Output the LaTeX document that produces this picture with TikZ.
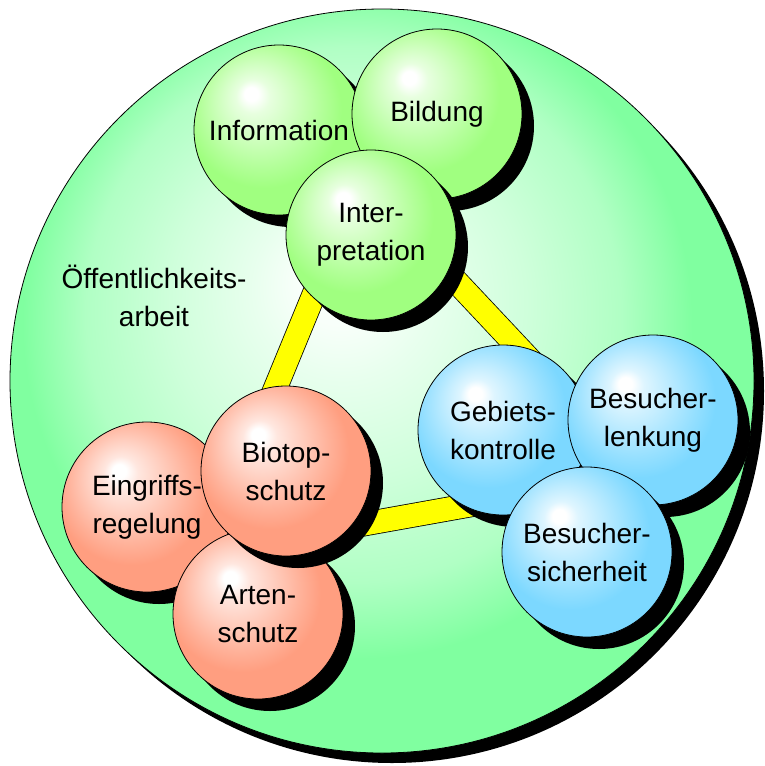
\documentclass[tikz,border=0pt]{standalone}
\usepackage{fontspec}
\newfontfamily\labelfont{Liberation Sans}
\usetikzlibrary{shadows}
\definecolor{worldgreen}{RGB}{128,255,160}
\definecolor{sphgreen}{RGB}{160,255,128}
\definecolor{sphred}{RGB}{255,158,128}
\definecolor{sphblue}{RGB}{124,216,255}
\definecolor{baryellow}{RGB}{255,255,0}
% the path's bounding box maps onto the central 50bp square, so the rim is at 25bp
\pgfdeclareradialshading{worldshade}{\pgfpoint{-3bp}{7bp}}{color(0bp)=(white); color(3bp)=(worldgreen!6!white); color(6bp)=(worldgreen!18!white); color(12bp)=(worldgreen!38!white); color(18bp)=(worldgreen!62!white); color(22.5bp)=(worldgreen); color(50bp)=(worldgreen)}
\pgfdeclareradialshading{greenball}{\pgfpoint{-8.5bp}{11bp}}{color(0bp)=(white); color(2bp)=(white); color(5bp)=(sphgreen!25!white); color(11bp)=(sphgreen!50!white); color(18bp)=(sphgreen!80!white); color(23bp)=(sphgreen); color(50bp)=(sphgreen)}
\pgfdeclareradialshading{redball}{\pgfpoint{-8.5bp}{11bp}}{color(0bp)=(white); color(2bp)=(white); color(5bp)=(sphred!25!white); color(11bp)=(sphred!50!white); color(18bp)=(sphred!80!white); color(23bp)=(sphred); color(50bp)=(sphred)}
\pgfdeclareradialshading{blueball}{\pgfpoint{-8.5bp}{11bp}}{color(0bp)=(white); color(2bp)=(white); color(5bp)=(sphblue!25!white); color(11bp)=(sphblue!50!white); color(18bp)=(sphblue!80!white); color(23bp)=(sphblue); color(50bp)=(sphblue)}
\tikzset{
  labeltext/.style={font=\labelfont\fontsize{28}{38}\selectfont, align=center, inner sep=0pt},
  world/.style={circle, draw=black, line width=0.8pt, minimum size=744pt, inner sep=0pt,
    shade, shading=worldshade,
    drop shadow={fill=black, opacity=1, shadow xshift=10pt, shadow yshift=-10pt}},
  sphere/.style={circle, draw=black, line width=0.8pt, minimum size=170pt, inner sep=0pt,
    labeltext, shade,
    drop shadow={fill=black, opacity=1, shadow xshift=12pt, shadow yshift=-12pt}},
  greensphere/.style={sphere, shading=greenball},
  redsphere/.style={sphere, shading=redball},
  bluesphere/.style={sphere, shading=blueball},
  bar/.style={draw=black, line width=0.8pt, double=baryellow, double distance=23pt, line join=round}
}
\begin{document}
\begin{tikzpicture}[x=1pt, y=-1pt]
\useasboundingbox (0,0) rectangle (764,766);
\node[world] (world) at (382,381) {};
% group centres joined by the yellow bars
\coordinate (gGreen) at (361,180);
\coordinate (gRed) at (208,552);
\coordinate (gBlue) at (638,475);
\draw[bar] (gGreen) -- (gRed) -- (gBlue) -- cycle;
\node[labeltext] (oeff) at (154,296) {Öffentlichkeits-\\arbeit};
% green group
\node[greensphere] (info) at (279,130) {Information};
\node[greensphere] (bild) at (437,114) {Bildung};
\node[greensphere] (interp) at (371,235) {Inter-\\pretation};
% blue group
\node[bluesphere] (gebiet) at (503,430) {Gebiets-\\kontrolle};
\node[bluesphere] (lenk) at (653,420) {Besucher-\\lenkung};
\node[bluesphere] (sicher) at (587,552) {Besucher-\\sicherheit};
% red group
\node[redsphere] (eingriff) at (147,507) {Eingriffs-\\regelung};
\node[redsphere] (arten) at (258,614) {Arten-\\schutz};
\node[redsphere] (biotop) at (286,471) {Biotop-\\schutz};
\end{tikzpicture}
\end{document}
